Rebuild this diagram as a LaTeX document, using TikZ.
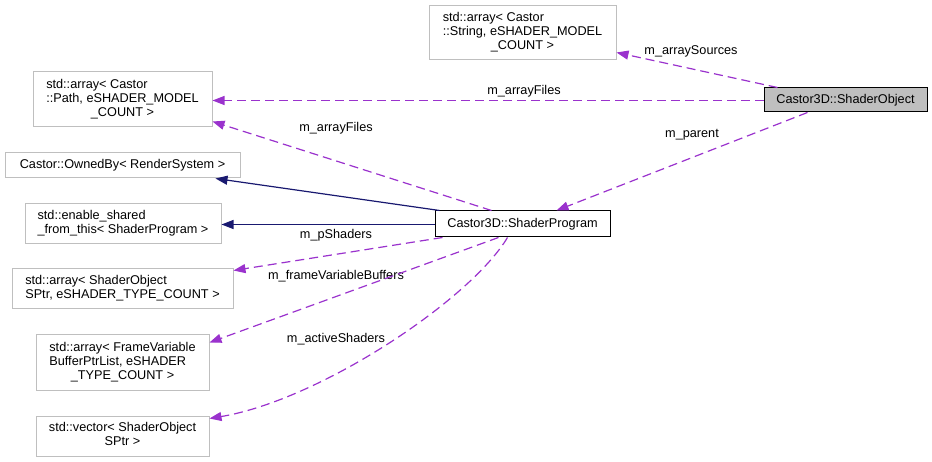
\documentclass[tikz,border=0pt]{standalone}
\usepackage{fontspec}
\setmainfont{Liberation Sans}
\usetikzlibrary{arrows.meta}
\definecolor{dep}{HTML}{9A32CD}
\definecolor{inh}{HTML}{191970}
\definecolor{boxgray}{HTML}{BFBFBF}
\newcommand{\tl}[1]{\begin{tabular}{@{}l@{}}#1\end{tabular}}
\newcommand{\lc}[1]{\multicolumn{1}{@{}c@{}}{#1}}
\tikzset{
  cls/.style={draw=boxgray, line width=1pt, inner sep=0pt, align=center,
    font=\fontsize{12.7}{14.5}\selectfont},
  main/.style={cls, draw=black},
  lbl/.style={inner sep=0pt, font=\fontsize{12.7}{14.5}\selectfont},
  depline/.style={draw=dep, line width=1.2pt, dash pattern=on 9pt off 5pt,
    -{Triangle[length=12pt,width=9pt]}},
  inhline/.style={draw=inh, line width=1.2pt, -{Triangle[length=12pt,width=9pt]}},
}
\renewcommand{\arraystretch}{0.95}
\begin{document}
\begin{tikzpicture}[x=1pt,y=-1pt]
\useasboundingbox (0,0) rectangle (932,462);
% nodes
\node[cls, minimum width=187pt, minimum height=54pt] (SSrc) at (522.5,33)
  {\tl{std::array< Castor\\::String, eSHADER\_MODEL\\\lc{\_COUNT >}}};
\node[main, fill=boxgray, minimum width=163pt, minimum height=24pt] (SO) at (845.5,100)
  {Castor3D::ShaderObject};
\node[cls, minimum width=179pt, minimum height=55pt] (SPath) at (122.5,99.5)
  {\tl{std::array< Castor\\::Path, eSHADER\_MODEL\\\lc{\_COUNT >}}};
\node[cls, minimum width=235pt, minimum height=25pt] (Owned) at (122.5,165.5)
  {Castor::OwnedBy< RenderSystem >};
\node[cls, minimum width=196pt, minimum height=40pt] (Enable) at (123,224)
  {\tl{std::enable\_shared\\\_from\_this< ShaderProgram >}};
\node[main, fill=white, minimum width=175pt, minimum height=26pt] (SP) at (522.5,224)
  {Castor3D::ShaderProgram};
\node[cls, minimum width=221pt, minimum height=40pt] (SOArr) at (122.5,289)
  {\tl{std::array< ShaderObject\\SPtr, eSHADER\_TYPE\_COUNT >}};
\node[cls, minimum width=173pt, minimum height=55pt] (FVB) at (122.5,362.5)
  {\tl{std::array< FrameVariable\\BufferPtrList, eSHADER\\\lc{\_TYPE\_COUNT >}}};
\node[cls, minimum width=173pt, minimum height=40pt] (Vec) at (122.5,436)
  {\tl{std::vector< ShaderObject\\\lc{SPtr >}}};
% labels
\node[lbl] (l1) at (691,51) {m\_arraySources};
\node[lbl] (l2) at (524,91) {m\_arrayFiles};
\node[lbl] (l3) at (692,135) {m\_parent};
\node[lbl] (l4) at (336,128) {m\_arrayFiles};
\node[lbl] (l5) at (336,235) {m\_pShaders};
\node[lbl] (l6) at (336,276) {m\_frameVariableBuffers};
\node[lbl] (l7) at (336,339) {m\_activeShaders};
% edges
\draw[depline] ([xshift=14pt]SO.north west) -- ([yshift=8pt]SSrc.south east);
\draw[depline] ([yshift=-0.5pt]SO.west) -- ([yshift=-0.5pt]SO.west -| SPath.east);
\draw[depline] ([xshift=44pt]SO.south west) -- ([xshift=122pt]SP.north west);
\draw[depline] ([xshift=57pt]SP.north west) -- ([yshift=6pt]SPath.south east);
\draw[inhline] ([xshift=5pt]SP.north west) -- ([xshift=-25pt]Owned.south east);
\draw[inhline] ([yshift=-0.5pt]SP.west) -- ([yshift=-0.5pt]SP.west -| Enable.east);
\draw[depline] ([xshift=8pt]SP.south west) -- ([yshift=-2pt]SOArr.north east);
\draw[depline] ([xshift=64pt]SP.south west) -- ([yshift=-8pt]FVB.north east);
\draw[depline] ([xshift=73pt]SP.south west) .. controls (470,300) and (320,400) .. ([yshift=-3pt]Vec.north east);
\end{tikzpicture}
\end{document}
